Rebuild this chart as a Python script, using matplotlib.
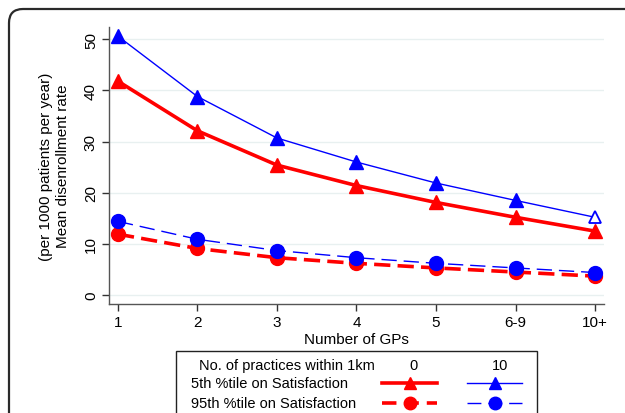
import matplotlib
matplotlib.use("Agg")
import matplotlib.pyplot as plt
from matplotlib.lines import Line2D
from matplotlib.patches import FancyBboxPatch, Rectangle
from matplotlib.transforms import IdentityTransform

plt.rcParams['font.family'] = ['Liberation Sans', 'DejaVu Sans']

categories = ["1", "2", "3", "4", "5", "6-9", "10+"]
p5_n0 = [41.8, 32.1, 25.4, 21.4, 18.1, 15.2, 12.5]
p5_n10 = [50.6, 38.8, 30.7, 26.0, 21.9, 18.5, 15.2]
p95_n0 = [11.9, 9.1, 7.3, 6.2, 5.3, 4.5, 3.7]
p95_n10 = [14.4, 10.9, 8.7, 7.3, 6.2, 5.3, 4.4]
yticks = [0, 10, 20, 30, 40, 50]

W, H = 625, 414
fig = plt.figure(figsize=(W / 100, H / 100), dpi=100)
fig.patch.set_facecolor('white')

# outer rounded frame (pixel coordinates, origin bottom-left)
frame = FancyBboxPatch((9, -100), 700, (H - 10) + 100,
                       boxstyle="round,pad=0,rounding_size=14",
                       transform=IdentityTransform(), fill=False,
                       edgecolor='#2a2a2a', linewidth=1.6, zorder=0)
fig.patches.append(frame)

ax = fig.add_axes([109 / W, (H - 305) / H, (604 - 109) / W, (305 - 28) / H])
x = list(range(len(categories)))

red = '#ff0000'
blue = '#0000ff'

ax.plot(x, p5_n0, color=red, lw=2.6, marker='^', ms=10, mec=red, mfc=red, zorder=4)
ax.plot(x[:-1], p5_n10[:-1], color=blue, lw=1.0, marker='^', ms=10, mec=blue, mfc=blue, zorder=5)
ax.plot(x[-2:], p5_n10[-2:], color=blue, lw=1.0, zorder=5)
ax.plot(x[-1], p5_n10[-1], linestyle='none', marker='^', ms=9, mec=blue, mfc='white', mew=1.3, zorder=6)
ax.plot(x, p95_n0, color=red, lw=2.6, ls=(0, (4.5, 2.0)), marker='o', ms=10, mec=red, mfc=red, zorder=4)
ax.plot(x, p95_n10, color=blue, lw=1.0, ls=(0, (11, 5)), marker='o', ms=10, mec=blue, mfc=blue, zorder=5)

ax.set_xlim(-0.113, 6.113)
ax.set_ylim(-1.75, 52.4)
ax.set_xticks(x)
ax.set_xticklabels(categories, fontsize=11)
ax.set_yticks(yticks)
ax.set_yticklabels([str(v) for v in yticks], fontsize=11, rotation=90, va='center')
for v in yticks:
    ax.axhline(v, color='#e8f0f0', lw=1.0, zorder=1)
for s in ['top', 'right']:
    ax.spines[s].set_visible(False)
for s in ['left', 'bottom']:
    ax.spines[s].set_color('#555555')
    ax.spines[s].set_linewidth(1.0)
ax.tick_params(direction='out', length=5, width=1, color='#333333', pad=3)
ax.set_xlabel("Number of GPs", fontsize=11, labelpad=2)
ax.set_ylabel("(per 1000 patients per year)\nMean disenrollment rate", fontsize=11,
              labelpad=10, linespacing=1.25)

# legend box
def fx(px):
    return px / W

def fy(py):
    return 1 - py / H

lb = Rectangle((fx(176), fy(430)), fx(537) - fx(176), fy(352) - fy(430),
               transform=fig.transFigure, fill=False, edgecolor='#222222', lw=1.0)
fig.patches.append(lb)

fs = 10.5
fig.text(fx(287), fy(366), "No. of practices within 1km", ha='center', va='center', fontsize=fs)
fig.text(fx(414), fy(366), "0", ha='center', va='center', fontsize=fs)
fig.text(fx(500), fy(366), "10", ha='center', va='center', fontsize=fs)
fig.text(fx(191), fy(384), "5th %tile on Satisfaction", ha='left', va='center', fontsize=fs)
fig.text(fx(191), fy(404), "95th %tile on Satisfaction", ha='left', va='center', fontsize=fs)

def key(x0, x1, yy, color, lw, ls, marker):
    xs = [fx(x0), fx(x1)]
    ys = [fy(yy), fy(yy)]
    fig.add_artist(Line2D(xs, ys, transform=fig.transFigure, color=color, lw=lw, ls=ls))
    fig.add_artist(Line2D([(xs[0] + xs[1]) / 2], [ys[0]], transform=fig.transFigure,
                          color=color, marker=marker, ms=9, mec=color, mfc=color, ls='none'))

key(382, 437, 384, red, 2.6, '-', '^')
key(467, 522, 384, blue, 1.0, '-', '^')
key(382, 437, 404, red, 2.6, (0, (4.0, 2.2)), 'o')
key(467, 522, 404, blue, 1.0, (0, (10, 5)), 'o')

fig.savefig("out.png", dpi=100, facecolor='white')
